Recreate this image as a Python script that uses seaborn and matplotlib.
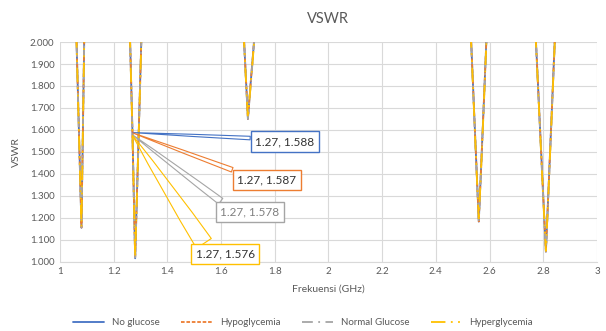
import matplotlib
matplotlib.use("Agg")
import matplotlib.pyplot as plt
import matplotlib.ticker as mticker
import seaborn as sns
import pandas as pd

# frequency points (GHz) shared by all series
freq = [1.00, 1.05, 1.06, 1.07, 1.08, 1.09, 1.10, 1.17, 1.25, 1.26, 1.27, 1.28,
        1.29, 1.30, 1.31, 1.50, 1.67, 1.68, 1.69, 1.70, 1.71, 1.72, 1.73, 2.10,
        2.52, 2.53, 2.54, 2.55, 2.56, 2.57, 2.58, 2.59, 2.60, 2.68, 2.76, 2.77,
        2.78, 2.79, 2.80, 2.81, 2.82, 2.83, 2.84, 2.85, 2.90, 3.00]

no_glucose = [3.50, 2.55, 2.08, 1.62, 1.155, 1.99, 2.80, 4.00, 2.55, 2.06, 1.588, 1.016,
              1.45, 1.88, 2.32, 4.00, 2.45, 2.15, 1.90, 1.650, 1.81, 1.96, 2.12, 4.00,
              2.33, 2.05, 1.76, 1.47, 1.183, 1.47, 1.76, 2.06, 2.35, 4.00, 2.34, 2.08,
              1.82, 1.56, 1.30, 1.046, 1.34, 1.63, 1.92, 2.21, 3.20, 4.00]
hypoglycemia = [3.50, 2.55, 2.08, 1.62, 1.156, 1.99, 2.80, 4.00, 2.55, 2.06, 1.587, 1.017,
                1.45, 1.88, 2.32, 4.00, 2.45, 2.15, 1.90, 1.651, 1.81, 1.96, 2.12, 4.00,
                2.33, 2.05, 1.76, 1.47, 1.184, 1.47, 1.76, 2.06, 2.35, 4.00, 2.34, 2.08,
                1.82, 1.56, 1.30, 1.047, 1.34, 1.63, 1.92, 2.21, 3.20, 4.00]
normal_glucose = [3.50, 2.54, 2.07, 1.61, 1.158, 1.98, 2.79, 4.00, 2.54, 2.05, 1.578, 1.020,
                  1.44, 1.87, 2.31, 4.00, 2.44, 2.14, 1.89, 1.653, 1.80, 1.95, 2.11, 4.00,
                  2.32, 2.04, 1.75, 1.46, 1.186, 1.46, 1.75, 2.05, 2.34, 4.00, 2.33, 2.07,
                  1.81, 1.55, 1.29, 1.049, 1.33, 1.62, 1.91, 2.20, 3.20, 4.00]
hyperglycemia = [3.50, 2.54, 2.07, 1.61, 1.160, 1.98, 2.79, 4.00, 2.54, 2.05, 1.576, 1.021,
                 1.44, 1.87, 2.31, 4.00, 2.44, 2.14, 1.89, 1.655, 1.80, 1.95, 2.11, 4.00,
                 2.32, 2.04, 1.75, 1.46, 1.188, 1.46, 1.75, 2.05, 2.34, 4.00, 2.33, 2.07,
                 1.81, 1.55, 1.29, 1.050, 1.33, 1.62, 1.91, 2.20, 3.20, 4.00]

series = ["No glucose", "Hypoglycemia", "Normal Glucose", "Hyperglycemia"]
values = [no_glucose, hypoglycemia, normal_glucose, hyperglycemia]
colors = {"No glucose": "#4472C4", "Hypoglycemia": "#ED7D31",
          "Normal Glucose": "#A5A5A5", "Hyperglycemia": "#FFC000"}
dashes = {"No glucose": None, "Hypoglycemia": (2, 1),
          "Normal Glucose": (6, 3, 1, 3), "Hyperglycemia": (8, 3, 1, 3, 1, 3)}

# callout labels at 1.27 GHz and where their boxes sit
ann_x = 1.27
ann_text = ["1.27, 1.588", "1.27, 1.587", "1.27, 1.578", "1.27, 1.576"]
ann_pos = [(1.838, 1.547), (1.771, 1.373), (1.708, 1.227), (1.615, 1.035)]
ann_txtcol = ["#333333", "#333333", "#808080", "#333333"]
ann_tail = [0.3, 0.4, 0.6, 1.5]
ann_rel = [(0.0, 0.8), (0.12, 1.0), (0.12, 1.0), (0.2, 1.0)]

rows = []
for name, vals in zip(series, values):
    for f, v in zip(freq, vals):
        rows.append({"Frekuensi": f, "VSWR": v, "Series": name})
df = pd.DataFrame(rows)

sns.set_style("whitegrid")
plt.rcParams["font.family"] = ["Lato", "DejaVu Sans"]

fig = plt.figure(figsize=(6.06, 3.31), dpi=100)
ax = fig.add_axes([0.099, 0.209, 0.886, 0.664])

for name in series:
    d = df[df["Series"] == name]
    sns.lineplot(ax=ax, data=d, x="Frekuensi", y="VSWR", color=colors[name],
                 lw=1.3, label=name, legend=False)
    l = ax.lines[-1]
    if dashes[name] is not None:
        l.set_dashes(dashes[name])

for txt, pos, vals, name, tc, tw, rp in zip(ann_text, ann_pos, values, series,
                                            ann_txtcol, ann_tail, ann_rel):
    y = vals[freq.index(ann_x)]
    ax.annotate(txt, xy=(ann_x, y), xytext=pos, ha="center", va="center",
                fontsize=8.5, color=tc, annotation_clip=False,
                bbox=dict(boxstyle="square,pad=0.4", fc="white", ec=colors[name], lw=1.0),
                arrowprops=dict(arrowstyle=f"wedge,tail_width={tw},shrink_factor=0.6",
                                fc="none", ec=colors[name], lw=0.8,
                                shrinkA=0, shrinkB=0, relpos=rp))

ax.set_xlim(1, 3)
ax.set_ylim(1, 2)
ax.xaxis.set_major_locator(mticker.MultipleLocator(0.2))
ax.yaxis.set_major_locator(mticker.MultipleLocator(0.1))
ax.xaxis.set_major_formatter(mticker.FuncFormatter(lambda v, p: f"{v:g}"))
ax.yaxis.set_major_formatter(mticker.FormatStrFormatter("%.3f"))
ax.grid(True, color="#D9D9D9", lw=0.8)
for s in ["top", "right", "left"]:
    ax.spines[s].set_visible(False)
ax.spines["bottom"].set_color("#D9D9D9")
ax.tick_params(axis="both", labelsize=7, colors="#595959", length=0, pad=4)

ax.set_title("VSWR", fontsize=10.5, color="#595959", pad=14)
ax.set_xlabel("Frekuensi (GHz)", fontsize=7.5, color="#595959", labelpad=6)
ax.set_ylabel("VSWR", fontsize=7.5, color="#595959", labelpad=6)

handles = ax.lines[:4]
fig.legend(handles, series, loc="center", bbox_to_anchor=(0.5, 0.025), ncol=4,
           frameon=False, fontsize=7, handlelength=3.2, columnspacing=2.2,
           labelcolor="#595959")

fig.savefig("out.png", dpi=100)
